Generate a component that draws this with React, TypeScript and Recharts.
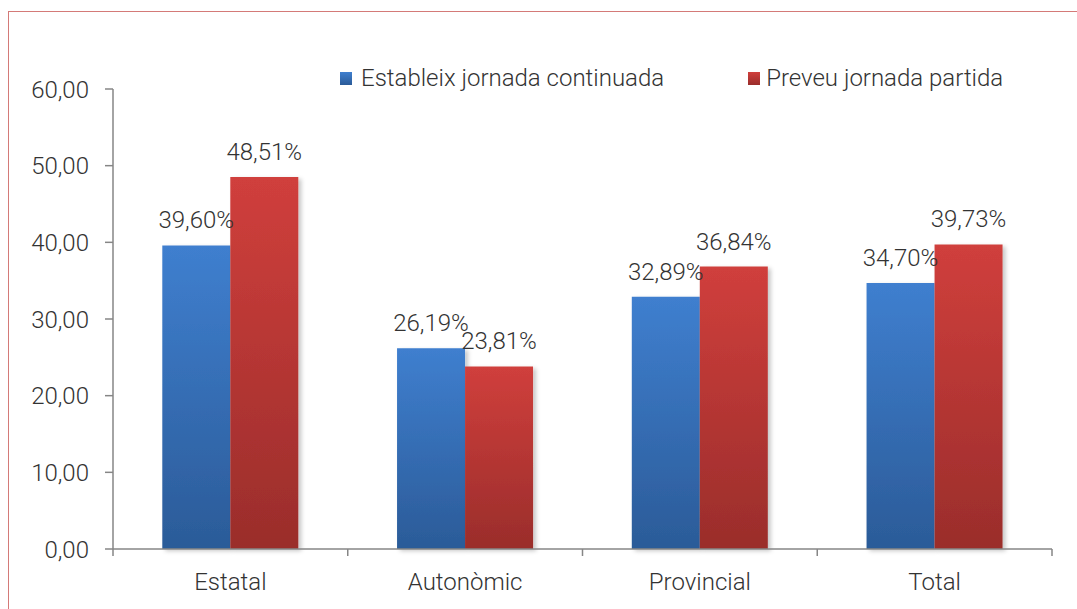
import React from "react";
import {
  Bar,
  BarChart,
  LabelList,
  Legend,
  XAxis,
  YAxis,
} from "recharts";

const categories = ["Estatal", "Autonòmic", "Provincial", "Total"];
const continuada = [39.6, 26.19, 32.89, 34.7];
const partida = [48.51, 23.81, 36.84, 39.73];
const yTicks = [0, 10, 20, 30, 40, 50, 60];

const seriesNames = {
  continuada: "Estableix jornada continuada",
  partida: "Preveu jornada partida",
};

const chartData = categories.map((name, i) => ({
  name,
  continuada: continuada[i],
  partida: partida[i],
}));

const FONT = "Roboto, sans-serif";
const FS = 24;
const TEXT = "#333333";
const AXIS = "#868686";
const X_TICK_SIZE = 7;
const X_TICK_MARGIN = 17;

const comma = (v: number) => v.toFixed(2).replace(".", ",");

const CategoryTick = (props: any) => {
  const { x, y, payload, index, visibleTicksCount } = props;
  const half = payload?.offset || 117.375;
  const axisY = y - X_TICK_MARGIN - X_TICK_SIZE;
  const last = index === (visibleTicksCount ?? categories.length) - 1;
  return (
    <g>
      <line x1={x - half} x2={x - half} y1={axisY} y2={axisY + X_TICK_SIZE} stroke={AXIS} strokeWidth={1.5} />
      {last && (
        <line x1={x + half} x2={x + half} y1={axisY} y2={axisY + X_TICK_SIZE} stroke={AXIS} strokeWidth={1.5} />
      )}
      <text x={x} y={y} dy="0.71em" textAnchor="middle" fill={TEXT} fontSize={FS} fontWeight={300} fontFamily={FONT}>
        {payload.value}
      </text>
    </g>
  );
};

const LegendContent = () => (
  <div style={{ display: "flex", alignItems: "center", fontFamily: FONT, fontSize: FS, fontWeight: 300, color: TEXT, whiteSpace: "nowrap" }}>
    <span style={{ width: 12, height: 13, background: "linear-gradient(#3f7fcf, #2b5b98)", marginRight: 9 }} />
    <span style={{ marginRight: 84 }}>{seriesNames.continuada}</span>
    <span style={{ width: 12, height: 13, background: "linear-gradient(#d03f3c, #9a2d2b)", marginRight: 6 }} />
    <span>{seriesNames.partida}</span>
  </div>
);

export default function App() {
  return (
    <div style={{ position: "absolute", left: 0, top: 0, width: 1077, height: 609, background: "#fff" }}>
      <div
        style={{
          position: "absolute",
          left: 8,
          top: 11,
          width: 1069,
          height: 598,
          borderLeft: "1px solid #d47a78",
          borderTop: "1px solid #d47a78",
          boxSizing: "border-box",
        }}
      />
      <BarChart
        width={1077}
        height={609}
        data={chartData}
        margin={{ top: 89, right: 25, left: 8, bottom: 10 }}
        barCategoryGap="21%"
        barGap={0}
        style={{ position: "absolute", left: 0, top: 0 }}
      >
        <defs>
          <linearGradient id="blueGrad" x1="0" y1="0" x2="0" y2="1">
            <stop offset="0%" stopColor="#3f7fcf" />
            <stop offset="100%" stopColor="#2b5b98" />
          </linearGradient>
          <linearGradient id="redGrad" x1="0" y1="0" x2="0" y2="1">
            <stop offset="0%" stopColor="#d03f3c" />
            <stop offset="100%" stopColor="#9a2d2b" />
          </linearGradient>
          <filter id="barShadow" x="-10%" y="-10%" width="130%" height="130%">
            <feDropShadow dx="3" dy="2" stdDeviation="2" floodColor="#000" floodOpacity="0.22" />
          </filter>
        </defs>
        <XAxis
          dataKey="name"
          height={50}
          axisLine={{ stroke: AXIS, strokeWidth: 1.5 }}
          tickLine={false}
          tickSize={X_TICK_SIZE}
          tickMargin={X_TICK_MARGIN}
          tick={<CategoryTick />}
          interval={0}
        />
        <YAxis
          width={105}
          domain={[0, 60]}
          ticks={yTicks}
          tickFormatter={comma}
          axisLine={{ stroke: AXIS, strokeWidth: 1.5 }}
          tickLine={{ stroke: AXIS, strokeWidth: 1.5 }}
          tickSize={8}
          tickMargin={16}
          tick={{ fill: TEXT, fontSize: FS, fontWeight: 300, fontFamily: FONT }}
        />
        <Legend
          verticalAlign="middle"
          align="center"
          wrapperStyle={{ top: 64, left: 340, width: "auto" }}
          content={<LegendContent />}
        />
        <Bar dataKey="continuada" name={seriesNames.continuada} fill="url(#blueGrad)" filter="url(#barShadow)" isAnimationActive={false}>
          <LabelList
            dataKey="continuada"
            position="top"
            offset={17}
            formatter={(v: any) => comma(Number(v)) + "%"}
            style={{ fill: TEXT, fontSize: FS, fontWeight: 300, fontFamily: FONT }}
          />
        </Bar>
        <Bar dataKey="partida" name={seriesNames.partida} fill="url(#redGrad)" filter="url(#barShadow)" isAnimationActive={false}>
          <LabelList
            dataKey="partida"
            position="top"
            offset={17}
            formatter={(v: any) => comma(Number(v)) + "%"}
            style={{ fill: TEXT, fontSize: FS, fontWeight: 300, fontFamily: FONT }}
          />
        </Bar>
      </BarChart>
    </div>
  );
}
